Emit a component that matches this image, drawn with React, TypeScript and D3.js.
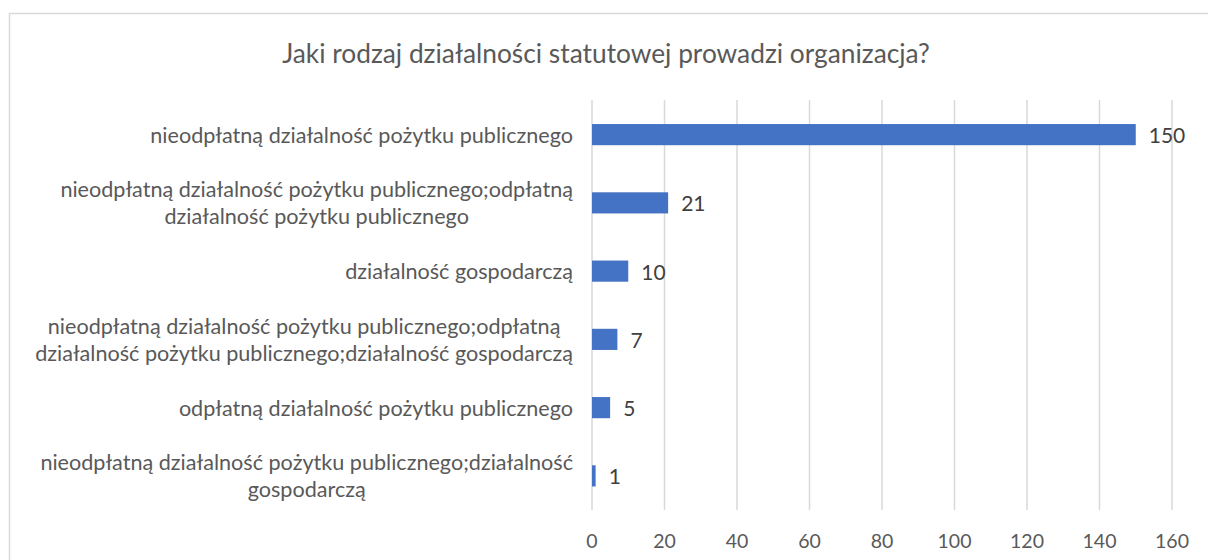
import React from "react";
import * as d3 from "d3";

const title = "Jaki rodzaj działalności statutowej prowadzi organizacja?";
const categories: string[][] = [
  ["nieodpłatną działalność pożytku publicznego"],
  ["nieodpłatną działalność pożytku publicznego;odpłatną", "działalność pożytku publicznego"],
  ["działalność gospodarczą"],
  ["nieodpłatną działalność pożytku publicznego;odpłatną", "działalność pożytku publicznego;działalność gospodarczą"],
  ["odpłatną działalność pożytku publicznego"],
  ["nieodpłatną działalność pożytku publicznego;działalność", "gospodarczą"],
];
const values = [150, 21, 10, 7, 5, 1];
const ticks = [0, 20, 40, 60, 80, 100, 120, 140, 160];

const W = 1208;
const H = 560;
const FONT = "'Gill Sans', 'Gill Sans MT', Lato, 'Noto Sans', sans-serif";

function Label({ lines, y, right }: { lines: string[]; y: number; right: number }) {
  const ref = React.useRef<SVGGElement>(null);
  const [w, setW] = React.useState(0);
  React.useLayoutEffect(() => {
    if (!ref.current) return;
    const texts = Array.from(ref.current.querySelectorAll("text")) as SVGTextElement[];
    setW(d3.max(texts, (t) => t.getComputedTextLength()) || 0);
  }, []);
  const lh = 27;
  const cx = right - w / 2;
  return (
    <g ref={ref}>
      {lines.map((l, i) => (
        <text
          key={i}
          x={cx}
          y={y + (i - (lines.length - 1) / 2) * lh}
          textAnchor="middle"
          dominantBaseline="central"
          fill="#595959"
          fontSize={21.6}
          fontFamily={FONT}
        >
          {l}
        </text>
      ))}
    </g>
  );
}

export default function App() {
  const x = d3.scaleLinear().domain([0, 160]).range([592, 1172]);
  const y = d3
    .scaleBand<number>()
    .domain(d3.range(categories.length))
    .range([100.5, 510])
    .paddingInner(0.69)
    .paddingOuter(0.345);

  return (
    <svg
      width={W}
      height={H}
      style={{ position: "absolute", left: 0, top: 0, background: "#fff" }}
    >
      <rect x={9.5} y={13.5} width={1300} height={700} fill="#fff" stroke="#D9D9D9" strokeWidth={1.5} />
      <text
        x={606}
        y={53}
        textAnchor="middle"
        dominantBaseline="central"
        fill="#595959"
        fontSize={26.3}
        fontFamily={FONT}
      >
        {title}
      </text>
      {ticks.map((t) => (
        <g key={t}>
          <line x1={x(t)} x2={x(t)} y1={100} y2={510} stroke="#D9D9D9" strokeWidth={1.5} />
          <text
            x={x(t)}
            y={540}
            textAnchor="middle"
            dominantBaseline="central"
            fill="#595959"
            fontSize={19.5}
            fontFamily={FONT}
          >
            {t}
          </text>
        </g>
      ))}
      {values.map((v, i) => (
        <g key={i}>
          <rect
            x={x(0)}
            y={y(i)!}
            width={x(v) - x(0)}
            height={y.bandwidth()}
            fill="#4472C4"
          />
          <text
            x={x(v) + 13}
            y={y(i)! + y.bandwidth() / 2}
            dominantBaseline="central"
            fill="#404040"
            fontSize={21}
            fontFamily={FONT}
          >
            {v}
          </text>
          <Label lines={categories[i]} y={y(i)! + y.bandwidth() / 2} right={573} />
        </g>
      ))}
    </svg>
  );
}
